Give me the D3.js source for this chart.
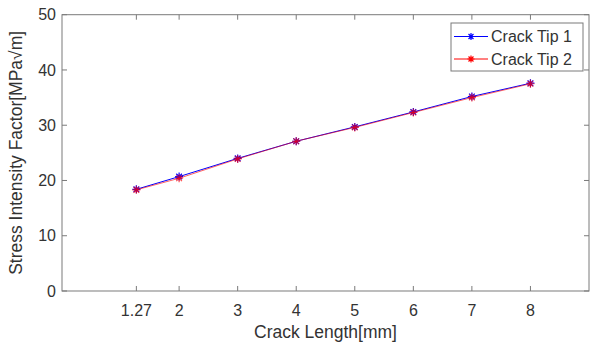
<!DOCTYPE html>
<html>
<head>
<meta charset="utf-8">
<script src="https://cdn.jsdelivr.net/npm/d3@7"></script>
<style>
  body { margin: 0; background: #fff; }
  text { font-family: Arial, "Liberation Sans", sans-serif; fill: #333; }
</style>
</head>
<body>
<div id="chart"></div>
<script>
// data
var crackLength = [1.27, 2, 3, 4, 5, 6, 7, 8];
var tip1 = [18.4, 20.7, 24.0, 27.1, 29.7, 32.4, 35.2, 37.6];
var tip2 = [18.3, 20.4, 23.9, 27.1, 29.6, 32.3, 35.0, 37.5];
var xTicks = [1.27, 2, 3, 4, 5, 6, 7, 8];
var yTicks = [0, 10, 20, 30, 40, 50];
var seriesNames = ["Crack Tip 1", "Crack Tip 2"];
var seriesColors = ["#0000ff", "#ff0000"];

var width = 592, height = 346;
var margin = { top: 14.7, right: 3, bottom: 55, left: 62 };
var w = width - margin.left - margin.right,
  h = height - margin.top - margin.bottom;

var svg = d3.select("#chart")
  .append("svg")
  .attr("width", width)
  .attr("height", height);

var g = svg.append("g")
  .attr("transform", "translate(" + margin.left + "," + margin.top + ")");

var x = d3.scaleLinear().domain([0, 9]).range([0, w]);
var y = d3.scaleLinear().domain([0, 50]).range([h, 0]);

var axisColor = "#7a7a7a";
var tickLen = 5;

// box
g.append("rect")
  .attr("x", 0).attr("y", 0)
  .attr("width", w).attr("height", h)
  .attr("fill", "none")
  .attr("stroke", axisColor)
  .attr("stroke-width", 1);

// ticks inward, on all four sides
xTicks.forEach(function(t) {
  g.append("line").attr("x1", x(t)).attr("x2", x(t)).attr("y1", h).attr("y2", h - tickLen).attr("stroke", axisColor);
  g.append("line").attr("x1", x(t)).attr("x2", x(t)).attr("y1", 0).attr("y2", tickLen).attr("stroke", axisColor);
  g.append("text")
    .attr("x", x(t)).attr("y", h + 25)
    .attr("text-anchor", "middle")
    .style("font-size", "16px")
    .text(t);
});
yTicks.forEach(function(t) {
  g.append("line").attr("x1", 0).attr("x2", tickLen).attr("y1", y(t)).attr("y2", y(t)).attr("stroke", axisColor);
  g.append("line").attr("x1", w).attr("x2", w - tickLen).attr("y1", y(t)).attr("y2", y(t)).attr("stroke", axisColor);
  g.append("text")
    .attr("x", -6).attr("y", y(t))
    .attr("dy", "0.36em")
    .attr("text-anchor", "end")
    .style("font-size", "16px")
    .text(t);
});

// axis labels
g.append("text")
  .attr("x", w / 2).attr("y", h + 47)
  .attr("text-anchor", "middle")
  .style("font-size", "17.5px")
  .text("Crack Length[mm]");

g.append("text")
  .attr("transform", "translate(" + (-40) + "," + (h / 2) + ") rotate(-90)")
  .attr("text-anchor", "middle")
  .style("font-size", "17.5px")
  .text("Stress Intensity Factor[MPa\u221Am]");

// asterisk marker
function star(sel, cx, cy, r, color, op) {
  var d = "";
  for (var k = 0; k < 4; k++) {
    var a = k * Math.PI / 4;
    var dx = r * Math.cos(a), dy = r * Math.sin(a);
    d += "M" + (cx - dx) + "," + (cy - dy) + "L" + (cx + dx) + "," + (cy + dy);
  }
  sel.append("path").attr("d", d).attr("stroke", color).attr("stroke-width", 1.2)
    .attr("fill", "none").attr("stroke-opacity", op);
}

var line = d3.line()
  .x(function(d) { return x(d[0]); })
  .y(function(d) { return y(d[1]); });

[tip1, tip2].forEach(function(vals, i) {
  var pts = crackLength.map(function(c, j) { return [c, vals[j]]; });
  g.append("path")
    .datum(pts)
    .attr("d", line)
    .attr("fill", "none")
    .attr("stroke", seriesColors[i])
    .attr("stroke-opacity", i == 1 ? 0.6 : 1)
    .attr("stroke-width", 1);
  pts.forEach(function(p) {
    star(g, x(p[0]), y(p[1]), 4, seriesColors[i], i == 1 ? 0.7 : 1);
  });
});

// legend
var lg = svg.append("g").attr("transform", "translate(451,23)");
lg.append("rect")
  .attr("x", 0).attr("y", 0)
  .attr("width", 132).attr("height", 48)
  .attr("fill", "#fff")
  .attr("stroke", axisColor);
seriesNames.forEach(function(name, i) {
  var cy = 13.5 + i * 22.5;
  lg.append("line")
    .attr("x1", 3).attr("x2", 37)
    .attr("y1", cy).attr("y2", cy)
    .attr("stroke", seriesColors[i]);
  star(lg, 20, cy, 3.5, seriesColors[i], 1);
  lg.append("text")
    .attr("x", 40).attr("y", cy)
    .attr("dy", "0.36em")
    .style("font-size", "16px")
    .text(name);
});
</script>
</body>
</html>
